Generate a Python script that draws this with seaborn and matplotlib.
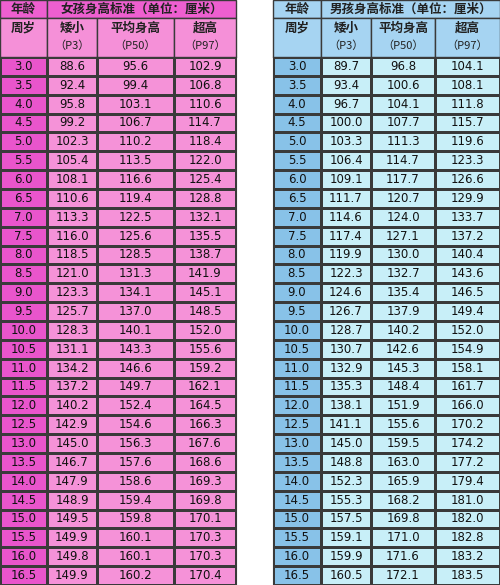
import numpy as np
import pandas as pd
import seaborn as sns
import matplotlib.pyplot as plt
from matplotlib.colors import ListedColormap
from matplotlib.patches import Rectangle

plt.rcParams['font.family'] = ['Noto Sans CJK SC', 'DejaVu Sans']

ages = [3.0, 3.5, 4.0, 4.5, 5.0, 5.5, 6.0, 6.5, 7.0, 7.5, 8.0, 8.5, 9.0, 9.5, 10.0,
        10.5, 11.0, 11.5, 12.0, 12.5, 13.0, 13.5, 14.0, 14.5, 15.0, 15.5, 16.0, 16.5]
girl_p3 = [88.6, 92.4, 95.8, 99.2, 102.3, 105.4, 108.1, 110.6, 113.3, 116.0, 118.5, 121.0, 123.3, 125.7,
           128.3, 131.1, 134.2, 137.2, 140.2, 142.9, 145.0, 146.7, 147.9, 148.9, 149.5, 149.9, 149.8, 149.9]
girl_p50 = [95.6, 99.4, 103.1, 106.7, 110.2, 113.5, 116.6, 119.4, 122.5, 125.6, 128.5, 131.3, 134.1, 137.0,
            140.1, 143.3, 146.6, 149.7, 152.4, 154.6, 156.3, 157.6, 158.6, 159.4, 159.8, 160.1, 160.1, 160.2]
girl_p97 = [102.9, 106.8, 110.6, 114.7, 118.4, 122.0, 125.4, 128.8, 132.1, 135.5, 138.7, 141.9, 145.1, 148.5,
            152.0, 155.6, 159.2, 162.1, 164.5, 166.3, 167.6, 168.6, 169.3, 169.8, 170.1, 170.3, 170.3, 170.4]
boy_p3 = [89.7, 93.4, 96.7, 100.0, 103.3, 106.4, 109.1, 111.7, 114.6, 117.4, 119.9, 122.3, 124.6, 126.7,
          128.7, 130.7, 132.9, 135.3, 138.1, 141.1, 145.0, 148.8, 152.3, 155.3, 157.5, 159.1, 159.9, 160.5]
boy_p50 = [96.8, 100.6, 104.1, 107.7, 111.3, 114.7, 117.7, 120.7, 124.0, 127.1, 130.0, 132.7, 135.4, 137.9,
           140.2, 142.6, 145.3, 148.4, 151.9, 155.6, 159.5, 163.0, 165.9, 168.2, 169.8, 171.0, 171.6, 172.1]
boy_p97 = [104.1, 108.1, 111.8, 115.7, 119.6, 123.3, 126.6, 129.9, 133.7, 137.2, 140.4, 143.6, 146.5, 149.4,
           152.0, 154.9, 158.1, 161.7, 166.0, 170.2, 174.2, 177.2, 179.4, 181.0, 182.0, 182.8, 183.2, 183.5]

W, H = 500, 585
fig = plt.figure(figsize=(5, 5.85), dpi=100)
data_top, data_bot = 57, 585
line = '#3a3a3a'


def column(x0, x1, vals, color):
    ax = fig.add_axes([x0 / W, 1 - data_bot / H, (x1 - x0) / W, (data_bot - data_top) / H])
    df = pd.DataFrame({'v': vals})
    sns.heatmap(np.zeros((len(vals), 1)), ax=ax, cmap=ListedColormap([color]), cbar=False,
                annot=df[['v']].map(lambda v: f'{v:.1f}').values, fmt='',
                annot_kws={'fontsize': 8.5, 'color': '#111111', 'family': 'DejaVu Sans'},
                linewidths=1, linecolor=line, xticklabels=False, yticklabels=False)
    for s in ax.spines.values():
        s.set_visible(True)
        s.set_color(line)


def header(cols, title, c_title, c_head):
    hax = fig.add_axes([0, 0, 1, 1], facecolor='none')
    hax.set_xlim(0, W)
    hax.set_ylim(H, 0)
    hax.axis('off')
    x_all = [c[0] for c in cols] + [cols[-1][1]]
    # title row
    hax.add_patch(Rectangle((x_all[0], 0), x_all[1] - x_all[0], 18, fc=c_title, ec=line, lw=1))
    hax.add_patch(Rectangle((x_all[1], 0), x_all[-1] - x_all[1], 18, fc=c_title, ec=line, lw=1))
    hax.text((x_all[0] + x_all[1]) / 2, 9, '年龄', ha='center', va='center', fontsize=9, weight='bold', color='#222')
    hax.text((x_all[1] + x_all[-1]) / 2, 9, title, ha='center', va='center', fontsize=9, weight='bold', color='#222')
    names = ['周岁', '矮小', '平均身高', '超高']
    subs = ['', '（P3）', '（P50）', '（P97）']
    for i, (a, b, _, _) in enumerate(cols):
        hax.add_patch(Rectangle((a, 18), b - a, 39, fc=c_head, ec=line, lw=1))
        hax.text((a + b) / 2, 28, names[i], ha='center', va='center', fontsize=9, weight='bold', color='#222')
        if subs[i]:
            hax.text((a + b) / 2, 46, subs[i], ha='center', va='center', fontsize=8, color='#222')


girl_cols = [(0, 47, ages, '#e955cc'), (47, 97, girl_p3, '#f592d8'),
             (97, 174, girl_p50, '#f592d8'), (174, 236, girl_p97, '#f592d8')]
boy_cols = [(273, 321, ages, '#88c2e8'), (321, 371, boy_p3, '#c8eff8'),
            (371, 435, boy_p50, '#c8eff8'), (435, 500, boy_p97, '#c8eff8')]

for x0, x1, vals, c in girl_cols + boy_cols:
    column(x0, x1, vals, c)

header(girl_cols, '女孩身高标准（单位：厘米）', '#ee5fd0', '#f590d8')
header(boy_cols, '男孩身高标准（单位：厘米）', '#a6d4f2', '#a6d4f2')

fig.savefig('out.png', dpi=100)
